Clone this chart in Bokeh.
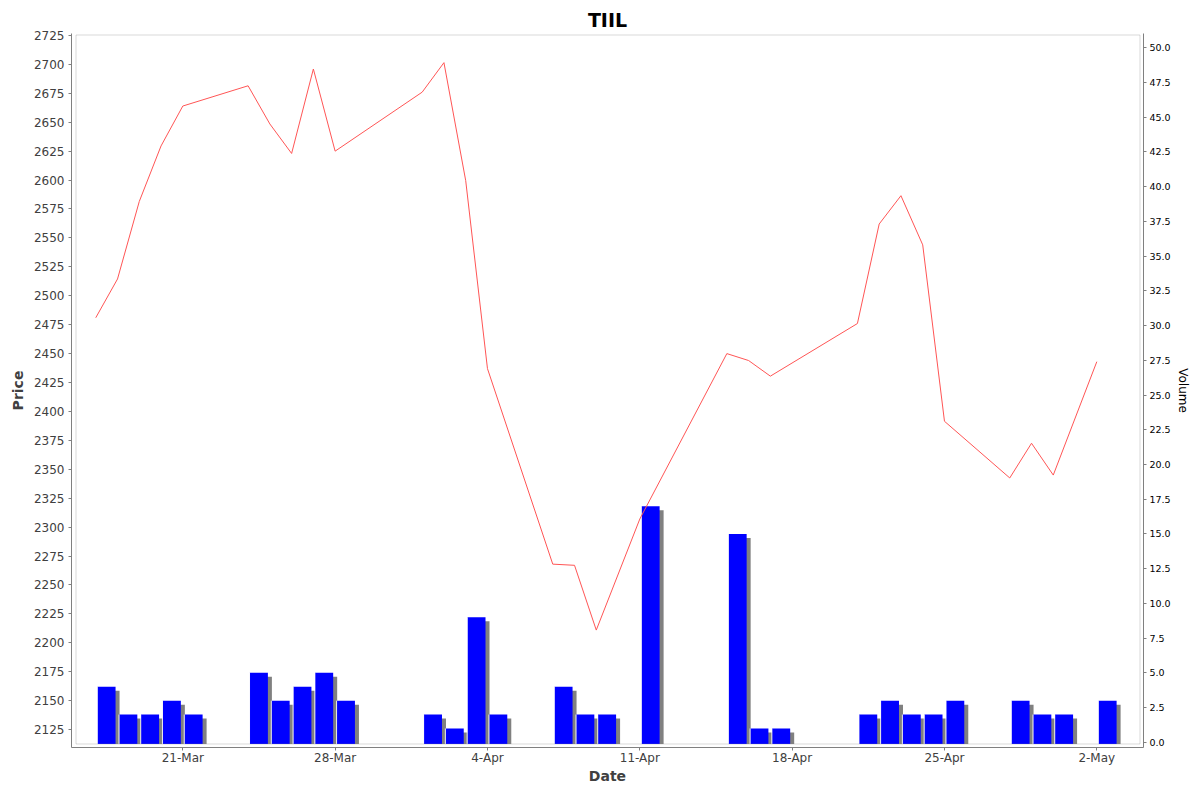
import pandas as pd
from bokeh.plotting import figure
from bokeh.models import (Range1d, LinearAxis, FixedTicker, NumeralTickFormatter,
                          BoxAnnotation, ColumnDataSource)
from bokeh.embed import file_html
from bokeh.resources import INLINE

# ---------------- data ----------------
chart_title = "TIIL"
x_label = "Date"
price_label = "Price"
volume_label = "Volume"
dates = ["2025-03-17", "2025-03-18", "2025-03-19", "2025-03-20", "2025-03-21",
         "2025-03-24", "2025-03-25", "2025-03-26", "2025-03-27", "2025-03-28",
         "2025-04-01", "2025-04-02", "2025-04-03", "2025-04-04",
         "2025-04-07", "2025-04-08", "2025-04-09", "2025-04-11",
         "2025-04-15", "2025-04-16", "2025-04-17",
         "2025-04-21", "2025-04-22", "2025-04-23", "2025-04-24", "2025-04-25",
         "2025-04-28", "2025-04-29", "2025-04-30", "2025-05-02"]
prices = [2481.0, 2514.5, 2581.5, 2629.5, 2664.0,
          2681.5, 2648.5, 2623.0, 2696.0, 2625.0,
          2676.0, 2701.5, 2599.5, 2437.0,
          2268.0, 2267.0, 2211.0, 2307.0,
          2450.0, 2444.0, 2430.5,
          2476.0, 2562.0, 2586.5, 2544.0, 2391.5,
          2342.5, 2372.5, 2345.0, 2443.0]
volumes = [4, 2, 2, 3, 2,
           5, 3, 4, 5, 3,
           2, 1, 9, 2,
           4, 2, 2, 17,
           15, 1, 1,
           2, 3, 2, 2, 3,
           3, 2, 2, 3]
price_ticks = list(range(2125, 2726, 25))
volume_ticks = [2.5 * i for i in range(21)]
date_tick_dates = ["2025-03-21", "2025-03-28", "2025-04-04", "2025-04-11",
                   "2025-04-18", "2025-04-25", "2025-05-02"]
date_tick_labels = ["21-Mar", "28-Mar", "4-Apr", "11-Apr", "18-Apr", "25-Apr", "2-May"]

# ---------------- styling / layout ----------------
FONT = "DejaVu Sans"
DARK = "#404040"
GRAY = "#808080"

def ms(ts):
    return pd.Timestamp(ts).value / 1e6

x = pd.to_datetime(dates)
D = pd.Timedelta(days=1)

x_start, x_end = ms("2025-03-15 21:15"), ms("2025-05-04 03:30")
inner_left, inner_right = ms("2025-03-16 02:13"), ms("2025-05-03 23:38")
price_lo, price_hi = 2109.5, 2726.7
price_inner_lo = 2112.53
price_inner_hi = 2725.40
vol_lo, vol_hi = -0.374, 51.03
vol_inner_lo = -0.122

shadow_dx = D * 0.184
shadow_dy = 0.288

bar_src = ColumnDataSource(dict(
    left=x + D * 0.08,
    right=x + D * 0.91,
    top=volumes,
    bottom=[vol_inner_lo] * len(volumes),
    sleft=x + D * 0.08 + shadow_dx,
    sright=x + D * 0.91 + shadow_dx,
    stop=[v - shadow_dy for v in volumes],
    hl=x + D * 0.066,
))

p = figure(width=1200, height=792, x_axis_type="datetime",
           output_backend="svg", toolbar_location=None,
           x_range=Range1d(x_start, x_end),
           y_range=Range1d(price_lo, price_hi),
           min_border_left=71, min_border_right=57,
           min_border_top=33, min_border_bottom=45,
           background_fill_color="white", border_fill_color="white")
p.extra_y_ranges = {"vol": Range1d(vol_lo, vol_hi)}
p.outline_line_color = None
p.grid.visible = False

# title
p.title.text = chart_title
p.title.text_font = FONT
p.title.text_font_size = "19px"
p.title.text_font_style = "bold"
p.title.text_color = "black"
p.title.align = "center"
p.title.offset = -7
p.title.standoff = 5

# volume bars with shadow
p.quad(left="sleft", right="sright", top="stop", bottom="bottom", source=bar_src,
       y_range_name="vol", fill_color=GRAY, line_color=None)
p.quad(left="left", right="right", top="top", bottom="bottom", source=bar_src,
       y_range_name="vol", fill_color="#0000ff", line_color=None)
p.segment(x0="hl", x1="hl", y0="bottom", y1="top", source=bar_src,
          y_range_name="vol", line_color="white", line_width=1, line_alpha=0.85)

# price line
p.line(x=x, y=prices, line_color="#ff5555", line_width=1)

# inner plot outline (axes are offset from it)
p.add_layout(BoxAnnotation(left=inner_left, right=inner_right,
                           bottom=price_inner_lo, top=price_inner_hi,
                           fill_color=None, line_color=GRAY, line_width=1))

def style_axis(ax, size, color, standoff, label, label_size, label_color,
               label_style, label_standoff):
    ax.major_label_text_font = FONT
    ax.major_label_text_font_size = size
    ax.major_label_text_color = color
    ax.major_label_standoff = standoff
    ax.axis_line_color = GRAY
    ax.major_tick_line_color = GRAY
    ax.major_tick_out = 3
    ax.major_tick_in = 0
    ax.minor_tick_line_color = None
    ax.axis_label = label
    ax.axis_label_text_font = FONT
    ax.axis_label_text_font_size = label_size
    ax.axis_label_text_color = label_color
    ax.axis_label_text_font_style = label_style
    ax.axis_label_standoff = label_standoff

# left price axis
ya = p.yaxis[0]
ya.ticker = FixedTicker(ticks=price_ticks)
ya.formatter = NumeralTickFormatter(format="0")
style_axis(ya, "12px", DARK, 4, price_label, "14px", DARK, "bold", 5)

# right volume axis
ra = LinearAxis(y_range_name="vol",
                ticker=FixedTicker(ticks=volume_ticks),
                formatter=NumeralTickFormatter(format="0.0"))
style_axis(ra, "9.5px", "black", 3, volume_label, "12px", "black", "normal", 2)
p.add_layout(ra, "right")

# bottom date axis
xa = p.xaxis[0]
tick_ms = [int(pd.Timestamp(d).value // 10**6) for d in date_tick_dates]
xa.ticker = FixedTicker(ticks=tick_ms)
xa.major_label_overrides = {t: lab for t, lab in zip(tick_ms, date_tick_labels)}
style_axis(xa, "12px", DARK, 0, x_label, "14px", DARK, "bold", 0)

open("out.html", "w").write(file_html(p, INLINE))
